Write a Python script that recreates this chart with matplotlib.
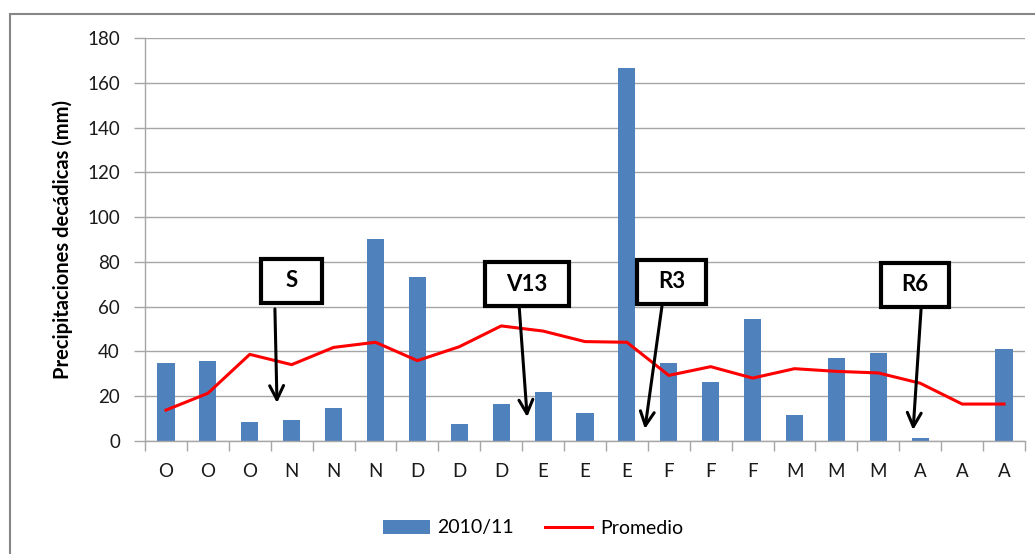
import matplotlib
matplotlib.use("Agg")
import matplotlib.pyplot as plt
from matplotlib.patches import Rectangle
import numpy as np

plt.rcParams['font.family'] = ['Lato', 'DejaVu Sans']

categories = ["O", "O", "O", "N", "N", "N", "D", "D", "D", "E", "E", "E",
              "F", "F", "F", "M", "M", "M", "A", "A", "A"]
lluvia_2010_11 = [34.7, 35.6, 8.3, 9.2, 14.6, 90.1, 73.2, 7.4, 16.5, 21.9, 12.4, 166.6,
                  34.7, 26.5, 54.6, 11.5, 36.9, 39.2, 1.5, 0.0, 41.1]
promedio = [13.8, 21.3, 38.7, 34.1, 41.8, 44.1, 35.9, 42.1, 51.4, 49.1, 44.4, 44.1,
            29.3, 33.2, 28.1, 32.3, 31.1, 30.4, 25.8, 16.5, 16.5]
y_ticks = [0, 20, 40, 60, 80, 100, 120, 140, 160, 180]

# annotations: label, box center (x, y), box width (data), arrow start, arrow end
annot_labels = ["S", "V13", "R3", "R6"]
annot_box = [(3.0, 71.5, 1.46), (8.62, 70.1, 2.0), (12.07, 71.2, 1.65), (17.88, 69.7, 1.62)]
annot_arrow = [((2.60, 59.0), (2.65, 17.0)), ((8.43, 59.8), (8.62, 10.7)),
               ((11.84, 60.7), (11.43, 5.4)), ((18.02, 59.0), (17.83, 4.9))]

W, H = 1035, 554
fig = plt.figure(figsize=(W / 100, H / 100), dpi=100)
# outer chart frame
fig.patches.append(Rectangle((10 / W, -0.1), 1.2, 1 - 14 / H + 0.1, transform=fig.transFigure,
                             fill=False, edgecolor="#868686", linewidth=1.5, zorder=0))

ax = fig.add_axes([145 / W, 1 - 441 / H, (1025 - 145) / W, (441 - 38) / H])
x = np.arange(len(categories))
bars = ax.bar(x, lluvia_2010_11, width=0.41, color="#4F81BD", label="2010/11", zorder=2)
line, = ax.plot(x, promedio, color="#FF0000", linewidth=2.2, label="Promedio", zorder=3)

ax.set_xlim(-0.5, len(categories) - 0.5)
ax.set_ylim(0, 180)
ax.set_yticks(y_ticks)
ax.yaxis.grid(True, color="#A6A6A6", linewidth=1.0, zorder=0)
ax.set_axisbelow(True)
for s in ["top", "right"]:
    ax.spines[s].set_visible(False)
for s in ["left", "bottom"]:
    ax.spines[s].set_color("#A6A6A6")
    ax.spines[s].set_linewidth(1.0)

ax.set_xticks(x)
ax.set_xticklabels(categories, fontsize=13.5, color="#1a1a1a")
ax.tick_params(axis="x", which="major", length=0, pad=16)
ax.set_xticks(np.arange(-0.5, len(categories), 1.0), minor=True)
ax.tick_params(axis="x", which="minor", length=7, color="#A6A6A6", width=1.0)
ax.tick_params(axis="y", length=8, color="#A6A6A6", width=1.0, labelsize=13.5,
               labelcolor="#1a1a1a", pad=10)

ax.set_ylabel("Precipitaciones decádicas (mm)", fontsize=14.5, fontweight="bold", labelpad=10)

for lab, (cx, cy, bw), (start, end) in zip(annot_labels, annot_box, annot_arrow):
    bh = 19.7
    ax.add_patch(Rectangle((cx - bw / 2, cy - bh / 2), bw, bh, facecolor="white",
                           edgecolor="black", linewidth=3, zorder=5))
    ax.text(cx, cy, lab, ha="center", va="center", fontsize=16, fontweight="bold", zorder=6)
    ax.annotate("", xy=end, xytext=start,
                arrowprops=dict(arrowstyle="->,head_length=1.0,head_width=0.5",
                                color="black", linewidth=2.2, shrinkA=0, shrinkB=0),
                zorder=6)

leg = fig.legend([bars, line], ["2010/11", "Promedio"], loc="center",
                 bbox_to_anchor=(533 / W, 1 - 528 / H), ncol=2, frameon=False,
                 fontsize=14, handlelength=2.4, columnspacing=1.6, handletextpad=0.4)

fig.savefig("out.png", dpi=100)
